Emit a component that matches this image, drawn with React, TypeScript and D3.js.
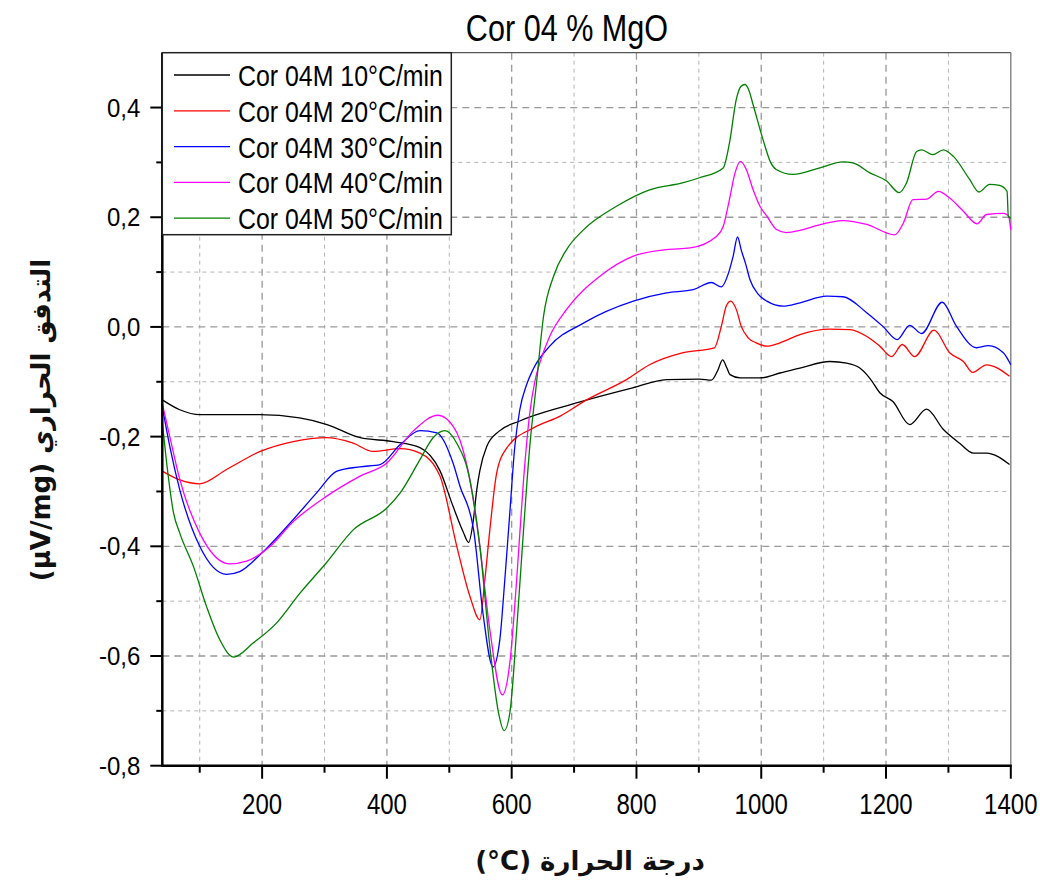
import React from "react";
import * as d3 from "d3";

type P = [number, number];

const seriesNames = [
  "Cor 04M 10°C/min",
  "Cor 04M 20°C/min",
  "Cor 04M 30°C/min",
  "Cor 04M 40°C/min",
  "Cor 04M 50°C/min",
];
const seriesColors = ["#000000", "#ff0000", "#0000ff", "#ff00ff", "#008000"];

const black10: P[] = [[40,-0.133],[68,-0.151],[100,-0.160],[196,-0.160],[260,-0.166],[304,-0.178],[357,-0.202],[410,-0.209],[453,-0.220],[485,-0.262],[506,-0.327],[522,-0.373],[531,-0.393],[538,-0.357],[544,-0.297],[549,-0.262],[560,-0.218],[580,-0.19],[612,-0.172],[693,-0.142],[794,-0.111],[848,-0.096],[901,-0.095],[920,-0.097],[930,-0.08],[938,-0.060],[945,-0.075],[950,-0.087],[966,-0.093],[998,-0.093],[1030,-0.084],[1062,-0.075],[1110,-0.063],[1137,-0.066],[1158,-0.075],[1175,-0.095],[1190,-0.12],[1211,-0.136],[1238,-0.178],[1265,-0.150],[1292,-0.187],[1318,-0.212],[1340,-0.230],[1361,-0.230],[1398,-0.251]];

const red20: P[] = [[40,-0.263],[68,-0.279],[100,-0.286],[143,-0.260],[197,-0.227],[250,-0.209],[303,-0.202],[346,-0.212],[378,-0.227],[421,-0.222],[453,-0.230],[485,-0.272],[512,-0.40],[533,-0.491],[549,-0.534],[557,-0.461],[565,-0.37],[576,-0.266],[592,-0.221],[635,-0.184],[677,-0.163],[720,-0.133],[784,-0.096],[821,-0.069],[875,-0.047],[925,-0.038],[936,0.001],[944,0.038],[951,0.047],[960,0.032],[968,0.001],[979,-0.02],[992,-0.029],[1009,-0.035],[1030,-0.029],[1062,-0.014],[1110,-0.004],[1142,-0.005],[1170,-0.018],[1190,-0.035],[1209,-0.054],[1226,-0.032],[1246,-0.054],[1277,-0.006],[1302,-0.047],[1324,-0.063],[1339,-0.083],[1361,-0.069],[1398,-0.090]];

const blue30: P[] = [[40,-0.145],[52,-0.218],[68,-0.297],[100,-0.40],[143,-0.451],[164,-0.446],[197,-0.415],[250,-0.351],[287,-0.303],[320,-0.263],[357,-0.255],[389,-0.251],[421,-0.215],[453,-0.189],[480,-0.193],[506,-0.248],[517,-0.29],[539,-0.37],[554,-0.522],[570,-0.62],[581,-0.570],[589,-0.461],[597,-0.339],[605,-0.218],[613,-0.151],[624,-0.105],[634,-0.078],[661,-0.035],[715,0.007],[795,0.047],[848,0.062],[891,0.068],[920,0.081],[936,0.073],[948,0.10],[955,0.129],[962,0.164],[968,0.14],[975,0.115],[982,0.086],[995,0.06],[1009,0.047],[1035,0.038],[1062,0.044],[1105,0.056],[1131,0.055],[1169,0.026],[1195,0.001],[1218,-0.023],[1238,0.003],[1257,-0.012],[1290,0.045],[1313,0.001],[1345,-0.038],[1364,-0.034],[1388,-0.047],[1400,-0.069]];

const magenta40: P[] = [[40,-0.14],[52,-0.2],[68,-0.278],[100,-0.376],[148,-0.432],[175,-0.427],[213,-0.40],[250,-0.355],[303,-0.309],[357,-0.272],[400,-0.248],[442,-0.190],[482,-0.161],[506,-0.181],[517,-0.206],[533,-0.279],[549,-0.40],[565,-0.552],[585,-0.671],[597,-0.613],[608,-0.461],[619,-0.279],[629,-0.157],[637,-0.10],[645,-0.066],[661,-0.017],[688,0.032],[741,0.092],[795,0.129],[848,0.141],[886,0.144],[928,0.165],[939,0.183],[949,0.232],[958,0.281],[967,0.302],[976,0.287],[987,0.250],[998,0.22],[1009,0.202],[1024,0.178],[1040,0.172],[1062,0.176],[1083,0.183],[1131,0.194],[1169,0.187],[1214,0.168],[1228,0.190],[1243,0.232],[1265,0.233],[1284,0.247],[1302,0.235],[1324,0.211],[1346,0.188],[1361,0.205],[1388,0.207],[1396,0.203],[1400,0.177]];

const green50: P[] = [[40,-0.175],[47,-0.248],[58,-0.339],[68,-0.376],[90,-0.437],[111,-0.51],[132,-0.570],[154,-0.602],[186,-0.576],[223,-0.540],[261,-0.485],[303,-0.430],[346,-0.370],[400,-0.330],[421,-0.303],[453,-0.242],[474,-0.202],[493,-0.189],[512,-0.212],[533,-0.279],[549,-0.40],[565,-0.583],[579,-0.704],[588,-0.736],[597,-0.704],[608,-0.552],[619,-0.37],[629,-0.218],[640,-0.10],[651,0.019],[667,0.092],[688,0.141],[715,0.177],[768,0.22],[821,0.250],[875,0.263],[901,0.272],[939,0.29],[949,0.335],[960,0.415],[967,0.438],[974,0.442],[980,0.432],[987,0.405],[1003,0.341],[1015,0.30],[1024,0.287],[1051,0.278],[1094,0.29],[1131,0.301],[1147,0.299],[1174,0.281],[1201,0.266],[1221,0.245],[1233,0.263],[1249,0.32],[1257,0.323],[1275,0.314],[1292,0.323],[1308,0.311],[1334,0.269],[1349,0.246],[1366,0.260],[1382,0.258],[1394,0.247],[1396,0.202],[1400,0.198]];

const allSeries = [black10, red20, blue30, magenta40, green50];

const xMajorTicks = [200, 400, 600, 800, 1000, 1200, 1400];
const xMinorTicks = [100, 300, 500, 700, 900, 1100, 1300];
const yMajorTicks = [0.4, 0.2, 0.0, -0.2, -0.4, -0.6, -0.8];
const yMinorTicks = [0.3, 0.1, -0.1, -0.3, -0.5, -0.7];

const titleText = "Cor 04 % MgO";
const xLabel = "(°C) درجة الحرارة";
const yLabel = "(µV/mg) التدفق الحراري";

const fmtY = (v: number) => v.toFixed(1).replace(".", ",").replace("-0,0", "0,0");

export default function App() {
  const L = 162.3, R = 1010.8, T = 52.7, B = 765.7;
  const x = d3.scaleLinear().domain([40, 1400]).range([L, R]);
  const y = d3.scaleLinear().domain([-0.8, 0.5]).range([B, T]);
  const line = d3
    .line<P>()
    .x((d) => x(d[0]))
    .y((d) => y(d[1]))
    .curve(d3.curveMonotoneX);
  const font = "'Liberation Sans', Arial, sans-serif";

  return (
    <svg width={1040} height={890} style={{ display: "block", position: "absolute", left: 0, top: 0, background: "#fff" }}>
      <rect x={0} y={0} width={1040} height={890} fill="#fff" />
      {xMinorTicks.map((t) => (
        <line key={"gxm" + t} x1={x(t)} x2={x(t)} y1={T} y2={B} stroke="#b4b4b4" strokeWidth={1} strokeDasharray="4,4" />
      ))}
      {yMinorTicks.map((t) => (
        <line key={"gym" + t} x1={L} x2={R} y1={y(t)} y2={y(t)} stroke="#b4b4b4" strokeWidth={1} strokeDasharray="4,4" />
      ))}
      {xMajorTicks.filter((t) => t < 1400).map((t) => (
        <line key={"gx" + t} x1={x(t)} x2={x(t)} y1={T} y2={B} stroke="#999" strokeWidth={1.3} strokeDasharray="7,5" />
      ))}
      {yMajorTicks.filter((t) => t > -0.8).map((t) => (
        <line key={"gy" + t} x1={L} x2={R} y1={y(t)} y2={y(t)} stroke="#999" strokeWidth={1.3} strokeDasharray="7,5" />
      ))}
      <line x1={L} x2={R} y1={T} y2={T} stroke="#555" strokeWidth={1.3} />
      <line x1={R} x2={R} y1={T} y2={B} stroke="#777" strokeWidth={1.3} />
      <g>
        {allSeries.map((s, i) => (
          <path key={i} d={line(s) || ""} fill="none" stroke={seriesColors[i]} strokeWidth={1.3} />
        ))}
      </g>
      <line x1={L} x2={L} y1={T} y2={B + 1} stroke="#000" strokeWidth={2.5} />
      <line x1={L - 1} x2={R + 1} y1={B} y2={B} stroke="#000" strokeWidth={2.5} />
      {yMajorTicks.map((t) => (
        <line key={"ty" + t} x1={L - 12} x2={L} y1={y(t)} y2={y(t)} stroke="#000" strokeWidth={2} />
      ))}
      {yMinorTicks.map((t) => (
        <line key={"tym" + t} x1={L - 6} x2={L} y1={y(t)} y2={y(t)} stroke="#000" strokeWidth={2} />
      ))}
      {xMajorTicks.map((t) => (
        <line key={"tx" + t} x1={x(t)} x2={x(t)} y1={B} y2={B + 13} stroke="#000" strokeWidth={2} />
      ))}
      {xMinorTicks.map((t) => (
        <line key={"txm" + t} x1={x(t)} x2={x(t)} y1={B} y2={B + 7} stroke="#000" strokeWidth={2} />
      ))}
      {yMajorTicks.map((t) => (
        <text key={"ly" + t} transform={`translate(${L - 22},${y(t) + 9}) scale(1,1.1)`} textAnchor="end" fontFamily={font} fontSize={24} fill="#000">
          {fmtY(t)}
        </text>
      ))}
      {xMajorTicks.map((t) => (
        <text key={"lx" + t} transform={`translate(${x(t)},${813.5}) scale(1,1.2)`} textAnchor="middle" fontFamily={font} fontSize={24} fill="#000">
          {t}
        </text>
      ))}
      <text transform={`translate(567,40.5) scale(1,1.18)`} textAnchor="middle" fontFamily={font} fontSize={30.6} fill="#000">
        {titleText}
      </text>
      <rect x={L} y={T} width={289} height={182} fill="#fff" stroke="#222" strokeWidth={1.5} />
      {seriesNames.map((n, i) => {
        const ry = 75 + i * 35.8;
        return (
          <g key={n}>
            <line x1={174} x2={230} y1={ry} y2={ry} stroke={seriesColors[i]} strokeWidth={1.3} />
            <text transform={`translate(238,${ry + 11}) scale(1,1.17)`} fontFamily={font} fontSize={24.9} fill="#000">
              {n}
            </text>
          </g>
        );
      })}
      <text transform={`translate(590,870)`} textAnchor="middle" fontFamily="'DejaVu Sans', sans-serif" fontWeight="bold" fontSize={26} fill="#111">
        {xLabel}
      </text>
      <text transform={`translate(50,420) rotate(-90)`} textAnchor="middle" fontFamily="'DejaVu Sans', sans-serif" fontWeight="bold" fontSize={26} fill="#111">
        {yLabel}
      </text>
    </svg>
  );
}
